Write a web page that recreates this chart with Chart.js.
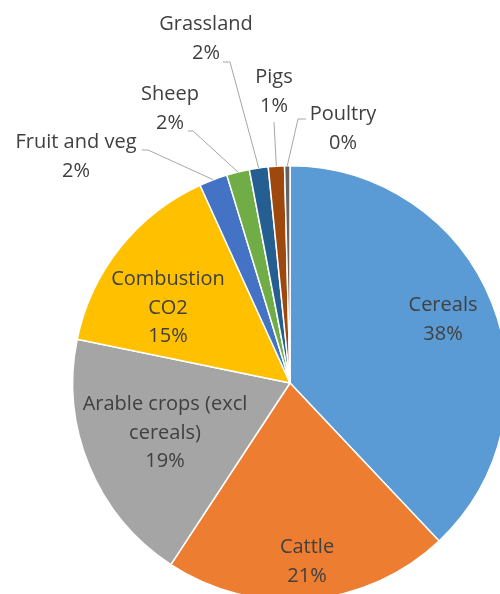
<!DOCTYPE html>
<html>
<head>
<meta charset="utf-8">
<script src="https://cdn.jsdelivr.net/npm/chart.js@4"></script>
<style>
  html, body { margin: 0; padding: 0; background: #fff; }
  #wrap { position: relative; width: 500px; height: 594px; overflow: hidden; }
  #box { position: absolute; left: 0; top: 0; width: 520px; height: 620px; }
</style>
</head>
<body>
<div id="wrap"><div id="box"><canvas id="pie" width="520" height="620"></canvas></div></div>
<script>
const categories = ['Cereals', 'Cattle', 'Arable crops (excl cereals)', 'Combustion CO2',
  'Fruit and veg', 'Sheep', 'Grassland', 'Pigs', 'Poultry'];
const shares = [38.0, 21.3, 19.0, 15.0, 2.1, 1.7, 1.4, 1.2, 0.4];
const labelLines = [
  ['Cereals', '38%'],
  ['Cattle', '21%'],
  ['Arable crops (excl', 'cereals)', '19%'],
  ['Combustion', 'CO2', '15%'],
  ['Fruit and veg', '2%'],
  ['Sheep', '2%'],
  ['Grassland', '2%'],
  ['Pigs', '1%'],
  ['Poultry', '0%']
];
const colors = ['#5B9BD5', '#ED7D31', '#A5A5A5', '#FFC000', '#4472C4',
  '#70AD47', '#255E91', '#9E480E', '#636363'];

// label block centre, relative to pie centre (px); leader = elbow + end offsets
const labelPos = [
  { dx: 153, dy: -63 },
  { dx: 17, dy: 179 },
  { dx: -125, dy: 50 },
  { dx: -122, dy: -75 },
  { dx: -214, dy: -226, elbow: [-142, -233], end: [-148, -233] },
  { dx: -120, dy: -274, elbow: [-97, -252], end: [-102, -252] },
  { dx: -84, dy: -344, elbow: [-60, -321], end: [-67, -321] },
  { dx: -16, dy: -291, elbow: [-16, -261], end: [-16, -261] },
  { dx: 53, dy: -254, elbow: [8, -264], end: [16, -264] }
];

const lineH = 28.7;

const labelPlugin = {
  id: 'sliceLabels',
  afterDraw(chart) {
    const { ctx } = chart;
    const meta = chart.getDatasetMeta(0);
    ctx.save();
    ctx.font = '20px "Open Sans"';
    ctx.fillStyle = '#404040';
    ctx.textAlign = 'center';
    ctx.textBaseline = 'middle';
    meta.data.forEach((arc, i) => {
      const { x, y, startAngle, endAngle, outerRadius } = arc.getProps(['x', 'y', 'startAngle', 'endAngle', 'outerRadius'], true);
      const pos = labelPos[i];
      if (pos.elbow) {
        const mid = (startAngle + endAngle) / 2;
        ctx.strokeStyle = '#A6A6A6';
        ctx.lineWidth = 1;
        ctx.beginPath();
        ctx.moveTo(x + Math.cos(mid) * outerRadius, y + Math.sin(mid) * outerRadius);
        ctx.lineTo(x + pos.elbow[0], y + pos.elbow[1]);
        ctx.lineTo(x + pos.end[0], y + pos.end[1]);
        ctx.stroke();
      }
      const lines = labelLines[i];
      const top = y + pos.dy - (lines.length - 1) * lineH / 2;
      lines.forEach((t, k) => ctx.fillText(t, x + pos.dx, top + k * lineH));
    });
    ctx.restore();
  }
};

new Chart(document.getElementById('pie'), {
  type: 'pie',
  data: {
    labels: categories,
    datasets: [{
      data: shares,
      backgroundColor: colors,
      borderColor: '#FFFFFF',
      borderWidth: 1.5
    }]
  },
  options: {
    responsive: false,
    animation: false,
    layout: { padding: { left: 72, top: 165, right: 12, bottom: 19 } },
    plugins: {
      legend: { display: false },
      tooltip: { enabled: false }
    }
  },
  plugins: [labelPlugin]
});
</script>
</body>
</html>
